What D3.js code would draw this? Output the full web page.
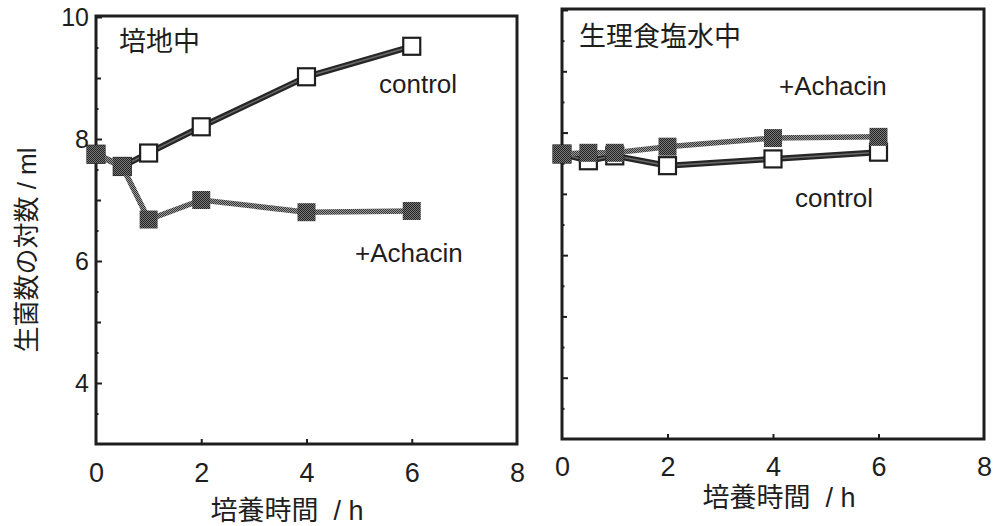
<!DOCTYPE html>
<html>
<head>
<meta charset="utf-8">
<script src="https://cdn.jsdelivr.net/npm/d3@7"></script>
<style>
  body { margin: 0; background: #fff; }
  svg text { font-family: 'Liberation Sans', 'Noto Sans CJK JP', sans-serif; fill: #1e1e1e; }
</style>
</head>
<body>
<svg></svg>
<script>
// Data
const hours = [0, 0.5, 1, 2, 4, 6]
const mediumControl = [7.75, 7.55, 7.77, 8.2, 9.02, 9.52]
const mediumAchacin = [7.75, 7.55, 6.68, 7.0, 6.8, 6.82]
const salineControl = [7.65, 7.54, 7.62, 7.46, 7.57, 7.68]
const salineAchacin = [7.65, 7.67, 7.67, 7.77, 7.91, 7.93]
const xTicks = [0, 2, 4, 6, 8]
const yLabelTicks = [4, 6, 8, 10]
const panelTitles = ['培地中', '生理食塩水中']
const xTitle = '培養時間\u00a0\u00a0/ h'
const yTitle = '生菌数の対数 / ml'

const width = 1002
const height = 526
const svg = d3.select('svg').attr('width', width).attr('height', height)

// halftone fills like the printed original
const defs = svg.append('defs')
const dark = defs.append('pattern').attr('id', 'dark').attr('width', 2).attr('height', 2)
  .attr('patternUnits', 'userSpaceOnUse')
dark.append('rect').attr('width', 2).attr('height', 2).attr('fill', '#7a7a7a')
dark.append('rect').attr('width', 1).attr('height', 1).attr('fill', '#222')
dark.append('rect').attr('x', 1).attr('y', 1).attr('width', 1).attr('height', 1).attr('fill', '#222')
const light = defs.append('pattern').attr('id', 'light').attr('width', 2).attr('height', 2)
  .attr('patternUnits', 'userSpaceOnUse')
light.append('rect').attr('width', 2).attr('height', 2).attr('fill', '#9c9c9c')
light.append('rect').attr('width', 1).attr('height', 1).attr('fill', '#363636')
light.append('rect').attr('x', 1).attr('y', 1).attr('width', 1).attr('height', 1).attr('fill', '#363636')

const panels = [
  {
    x0: 96, x1: 517, yTop: 17, yBot: 444, labelPad: 19, yLabels: true,
    control: mediumControl, achacin: mediumAchacin, title: panelTitles[0],
    titlePos: [119, 51], controlPos: [379, 93], achacinPos: [355, 262], xTitlePos: [287, 520],
  },
  {
    x0: 562, x1: 984, yTop: 10, yBot: 439, labelPad: 18, yLabels: false,
    control: salineControl, achacin: salineAchacin, title: panelTitles[1],
    titlePos: [579, 46], controlPos: [795, 207], achacinPos: [779, 95], xTitlePos: [779, 507],
  },
]

const sq = 17

panels.forEach((p) => {
  const x = d3.scaleLinear().domain([0, 8]).range([p.x0, p.x1])
  const y = d3.scaleLinear().domain([3, 10]).range([p.yBot, p.yTop])
  const g = svg.append('g')

  // minor ticks every 0.5, longer at integers
  const minor = g.append('g').attr('transform', `translate(${p.x0},0)`)
    .call(d3.axisLeft(y).tickValues(d3.range(3.5, 10, 1)).tickSize(-2.5).tickFormat(''))
  const mid = g.append('g').attr('transform', `translate(${p.x0},0)`)
    .call(d3.axisLeft(y).tickValues([5, 7, 9]).tickSize(-5).tickFormat(''))
  const major = g.append('g').attr('transform', `translate(${p.x0},0)`)
    .call(d3.axisLeft(y).tickValues(yLabelTicks).tickSize(-6).tickPadding(7)
      .tickFormat(p.yLabels ? d3.format('d') : ''))
  const xa = g.append('g').attr('transform', `translate(0,${p.yBot})`)
    .call(d3.axisBottom(x).tickValues(xTicks).tickSize(-5).tickPadding(p.labelPad).tickFormat(d3.format('d')))
  ;[minor, mid, major, xa].forEach((a) => {
    a.select('.domain').remove()
    a.selectAll('line').attr('stroke', '#1e1e1e').attr('stroke-width', 2)
    a.selectAll('text').attr('fill', '#1e1e1e')
      .style('font-family', "'Liberation Sans', sans-serif")
  })
  major.selectAll('text').attr('font-size', 25)
  xa.selectAll('text').attr('font-size', 27)
  xa.selectAll('.tick').filter((d) => d === 0 || d === 8).select('line').remove()

  // frame
  g.append('rect')
    .attr('x', p.x0).attr('y', p.yTop - 1)
    .attr('width', p.x1 - p.x0).attr('height', p.yBot - p.yTop + 1)
    .attr('fill', 'none').attr('stroke', '#1e1e1e').attr('stroke-width', 3)

  const line = d3.line().x((d) => x(d[0])).y((d) => y(d[1]))
  const ctrl = hours.map((h, i) => [h, p.control[i]])
  const ach = hours.map((h, i) => [h, p.achacin[i]])

  // control: thick dark line, open squares
  g.append('path').datum(ctrl).attr('d', line)
    .attr('fill', 'none').attr('stroke', '#262626').attr('stroke-width', 6)
  g.append('path').datum(ctrl).attr('d', line)
    .attr('fill', 'none').attr('stroke', '#6a6a6a').attr('stroke-width', 1.5)
  g.selectAll('.open').data(ctrl).enter().append('rect').attr('class', 'open')
    .attr('x', (d) => x(d[0]) - sq / 2).attr('y', (d) => y(d[1]) - sq / 2)
    .attr('width', sq).attr('height', sq)
    .attr('fill', '#fff').attr('stroke', '#1e1e1e').attr('stroke-width', 2.2)

  // +Achacin: stippled line, filled squares
  g.append('path').datum(ach).attr('d', line)
    .attr('fill', 'none').attr('stroke', 'url(#light)').attr('stroke-width', 5.5)
  g.selectAll('.filled').data(ach).enter().append('rect').attr('class', 'filled')
    .attr('x', (d) => x(d[0]) - 9).attr('y', (d) => y(d[1]) - 9)
    .attr('width', 18).attr('height', 18)
    .attr('fill', 'url(#dark)')

  // labels
  g.append('text').attr('x', p.titlePos[0]).attr('y', p.titlePos[1])
    .attr('font-size', 27).text(p.title)
  g.append('text').attr('x', p.controlPos[0]).attr('y', p.controlPos[1])
    .attr('font-size', 26).text('control')
  g.append('text').attr('x', p.achacinPos[0]).attr('y', p.achacinPos[1])
    .attr('font-size', 26).text('+Achacin')
  g.append('text').attr('x', p.xTitlePos[0]).attr('y', p.xTitlePos[1])
    .attr('text-anchor', 'middle').attr('font-size', 27).text(xTitle)
})

svg.append('text')
  .attr('transform', 'translate(36,250) rotate(-90)')
  .attr('text-anchor', 'middle').attr('font-size', 26).text(yTitle)
</script>
</body>
</html>
